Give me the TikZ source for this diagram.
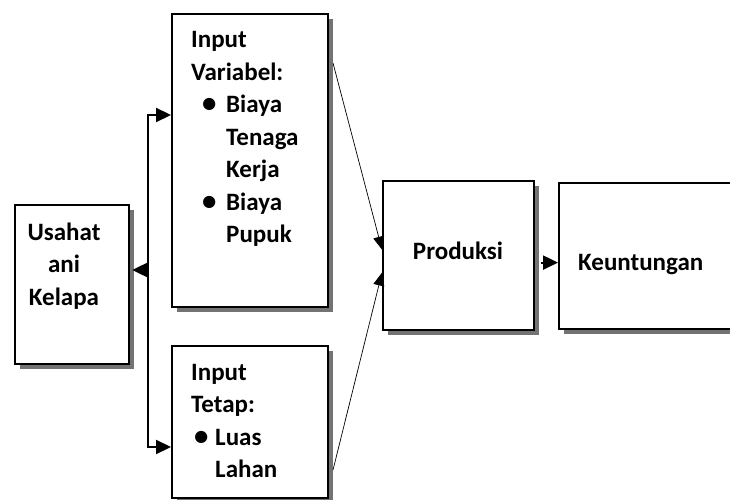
\documentclass[tikz,border=0pt]{standalone}
\usepackage{fontspec}
\setmainfont{Carlito}
\usetikzlibrary{arrows.meta,shadows}

\tikzstyle{kotak}=[draw, line width=2.2pt, inner sep=0pt, anchor=north west, fill=white,
  drop shadow={shadow xshift=5pt, shadow yshift=-5pt, fill=black!55, opacity=1}]
\tikzstyle{isi}=[font=\bfseries\fontsize{25}{32.5}\selectfont, inner sep=0pt,
  anchor=base west, text width=150pt, align=left]
\tikzstyle{panah}=[-{Triangle[length=15pt,width=14pt]}, line width=2.2pt]
\tikzstyle{tipis}=[-{Triangle[length=13pt,width=11pt]}, line width=0.7pt]
\newcommand{\titik}{\scalebox{1.15}{\textbullet}}

\begin{document}
\begin{tikzpicture}[x=1pt, y=-1pt]
\clip (0,0) rectangle (730,500);
\draw (14,204) node[kotak, minimum width=114pt, minimum height=159pt](usaha){};
\node[isi, anchor=base, text width=100pt, align=center](usahateks) at (64,240)
  {Usahat\\ani\\Kelapa};
%
\draw (171,13) node[kotak, minimum width=156pt, minimum height=293pt](var){};
\node[isi](varteks) at (191,48) {Input\\Variabel:\\
  \hspace*{11pt}\makebox[24pt][l]{\titik}Biaya\\
  \hspace*{35pt}Tenaga\\
  \hspace*{35pt}Kerja\\
  \hspace*{11pt}\makebox[24pt][l]{\titik}Biaya\\
  \hspace*{35pt}Pupuk};
%
\draw (171,345) node[kotak, minimum width=156pt, minimum height=152pt](tetap){};
\node[isi](tetapteks) at (191,380) {Input\\Tetap:\\
  \hspace*{3pt}\makebox[21pt][l]{\titik}Luas\\
  \hspace*{24pt}Lahan};
%
\draw (382,180) node[kotak, minimum width=151pt, minimum height=149pt](prod){};
\node[isi, anchor=base, text width=](prodteks) at (458,259) {Produksi};
%
\draw (558,182) node[kotak, minimum width=187pt, minimum height=146pt](keun){};
\node[isi, text width=](keunteks) at (578,270) {Keuntungan};
%
\coordinate (atas) at (148,115);
\coordinate (bawah) at (148,447);
\coordinate (tengah) at (148,270);
\draw[{Triangle[length=15pt,width=14pt]}-{Triangle[length=15pt,width=14pt]}, line width=2.2pt]
  (var.west |- atas) -- (atas) -- (bawah) -- (tetap.west |- bawah);
\draw[panah] (tengah) -- ([xshift=2pt] usaha.east |- tengah);
%
\coordinate (varkeluar) at (333,63);
\coordinate (tetapkeluar) at (333,470);
\draw[tipis] (varkeluar) -- ([yshift=6pt] prod.west);
\draw[tipis] (tetapkeluar) -- ([yshift=-17pt] prod.west);
\draw[panah] ([xshift=6pt, yshift=-7pt] prod.east) -- ([yshift=-7pt] prod.east -| keun.west);
\end{tikzpicture}
\end{document}
